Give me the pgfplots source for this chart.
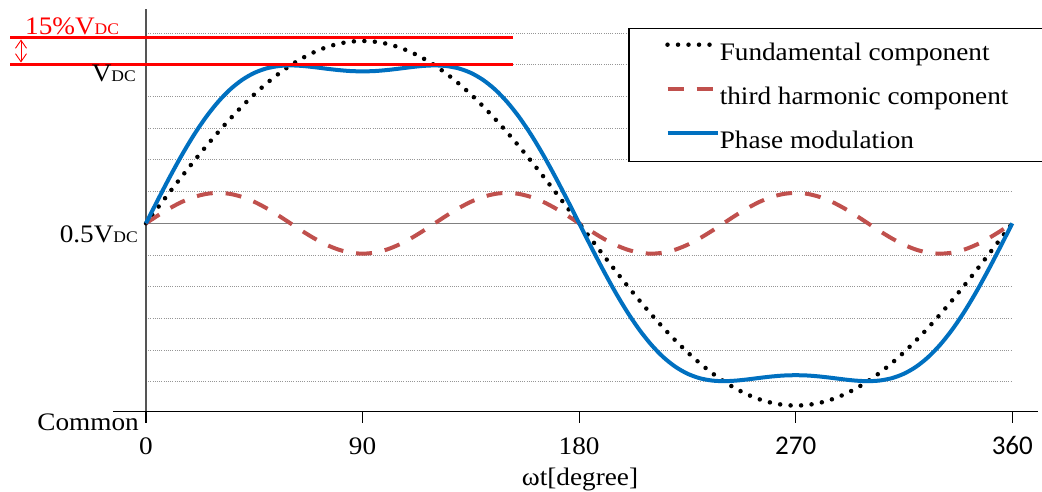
\documentclass[border=0pt]{standalone}
\usepackage{fontspec}
\setmainfont{Liberation Serif}[FakeStretch=1.08]
\newfontfamily\carlito{Carlito}
\usepackage{pgfplots}
\usepackage{pgfplotstable}
\pgfplotsset{compat=1.18}
\usetikzlibrary{arrows.meta}

\definecolor{pmblue}{RGB}{0,112,192}
\definecolor{thred}{RGB}{192,80,77}
\definecolor{gridgray}{RGB}{150,150,150}
\definecolor{axgray}{RGB}{85,85,85}
\newcommand{\bigfont}{\fontsize{25.2}{30}\selectfont}
\newcommand{\dcfont}{\fontsize{16.2}{18}\selectfont}
\newcommand{\vdc}{V{\dcfont DC}}
\newcommand{\carl}[1]{\hbox{\carlito\fontsize{27}{30}\selectfont #1}}
\newcommand{\serl}[1]{\hbox{\rmfamily\bigfont #1}}

\pgfplotstableread{
x F T P
0 0.5000 0.5000 0.5000
5 0.5501 0.5248 0.5749
10 0.5998 0.5479 0.6477
15 0.6488 0.5678 0.7166
20 0.6967 0.5830 0.7797
25 0.7430 0.5926 0.8356
30 0.7875 0.5958 0.8833
35 0.8298 0.5926 0.9224
40 0.8696 0.5830 0.9526
45 0.9066 0.5678 0.9744
50 0.9405 0.5479 0.9884
55 0.9710 0.5248 0.9958
60 0.9980 0.5000 0.9980
65 1.0211 0.4752 0.9963
70 1.0403 0.4521 0.9924
75 1.0554 0.4322 0.9876
80 1.0663 0.4170 0.9833
85 1.0728 0.4074 0.9802
90 1.0750 0.4042 0.9792
95 1.0728 0.4074 0.9802
100 1.0663 0.4170 0.9833
105 1.0554 0.4322 0.9876
110 1.0403 0.4521 0.9924
115 1.0211 0.4752 0.9963
120 0.9980 0.5000 0.9980
125 0.9710 0.5248 0.9958
130 0.9405 0.5479 0.9884
135 0.9066 0.5678 0.9744
140 0.8696 0.5830 0.9526
145 0.8298 0.5926 0.9224
150 0.7875 0.5958 0.8833
155 0.7430 0.5926 0.8356
160 0.6967 0.5830 0.7797
165 0.6488 0.5678 0.7166
170 0.5998 0.5479 0.6477
175 0.5501 0.5248 0.5749
180 0.5000 0.5000 0.5000
185 0.4499 0.4752 0.4251
190 0.4002 0.4521 0.3523
195 0.3512 0.4322 0.2834
200 0.3033 0.4170 0.2203
205 0.2570 0.4074 0.1644
210 0.2125 0.4042 0.1167
215 0.1702 0.4074 0.0776
220 0.1304 0.4170 0.0474
225 0.0934 0.4322 0.0256
230 0.0595 0.4521 0.0116
235 0.0290 0.4752 0.0042
240 0.0020 0.5000 0.0020
245 -0.0211 0.5248 0.0037
250 -0.0403 0.5479 0.0076
255 -0.0554 0.5678 0.0124
260 -0.0663 0.5830 0.0167
265 -0.0728 0.5926 0.0198
270 -0.0750 0.5958 0.0208
275 -0.0728 0.5926 0.0198
280 -0.0663 0.5830 0.0167
285 -0.0554 0.5678 0.0124
290 -0.0403 0.5479 0.0076
295 -0.0211 0.5248 0.0037
300 0.0020 0.5000 0.0020
305 0.0290 0.4752 0.0042
310 0.0595 0.4521 0.0116
315 0.0934 0.4322 0.0256
320 0.1304 0.4170 0.0474
325 0.1702 0.4074 0.0776
330 0.2125 0.4042 0.1167
335 0.2570 0.4074 0.1644
340 0.3033 0.4170 0.2203
345 0.3512 0.4322 0.2834
350 0.4002 0.4521 0.3523
355 0.4499 0.4752 0.4251
360 0.5000 0.5000 0.5000
}\wavedata

\begin{document}
\begin{tikzpicture}[x=1pt,y=1pt]
\begin{axis}[
  at={(146pt,79.3pt)}, anchor=south west,
  scale only axis, width=866.3pt, height=402.4pt,
  xmin=0, xmax=360, ymin=-0.0943, ymax=1.175,
  clip=false,
  axis x line=bottom, axis y line=left,
  axis line style={-},
  x axis line style={draw=none},
  y axis line style={draw=axgray, line width=2pt},
  /pgf/number format/assume math mode=true,
  xtick={0,90,180,270,360},
  xticklabels={\serl{0},\serl{90},\serl{180},\carl{270},\carl{360}},
  tick align=outside,
  major tick length=11pt,
  xtick style={black, line width=1.2pt},
  xticklabel style={font=\bigfont, anchor=base, yshift=-31.3pt},
  ytick={0,0.1,0.2,0.3,0.4,0.6,0.7,0.8,0.9,1.0,1.1},
  yticklabels={},
  ytick style={draw=none},
  ymajorgrids,
  major grid style={gridgray, line width=0.8pt, dash pattern=on 1pt off 1.2pt},
  extra y ticks={0.5}, extra y tick labels={},
  extra y tick style={grid=major, major grid style={solid, draw=gray, line width=1.3pt}, tick style={draw=none}},
  legend style={at={(axis cs:215.7,1.0719)}, anchor=north west, draw=none, fill=none,
    inner sep=0pt, row sep=20pt, column sep=0pt, font=\bigfont,
    nodes={inner sep=0pt, text height=18pt, text depth=6pt}},
  legend cell align=left,
  legend image code/.code={\draw[#1] (0pt,9.5pt) -- (50pt,9.5pt);},
]
\addplot[black, line width=4.5pt, line cap=round, dash pattern=on 0pt off 10.5pt, smooth] table[x=x,y=F]{\wavedata};
\addlegendentry{Fundamental component}
\addplot[thred, line width=4pt, dash pattern=on 16pt off 13pt, smooth] table[x=x,y=T]{\wavedata};
\addlegendentry{third harmonic component}
\addplot[pmblue, line width=4pt, smooth] table[x=x,y=P]{\wavedata};
\addlegendentry{Phase modulation}
\filldraw[fill=white, draw=black, line width=1.5pt] (axis cs:200.7,0.6943) rectangle (axis cs:374,1.1151);
\end{axis}
% axis line and annotations
\draw[black, line width=1.5pt] (113,79.3) -- (1038,79.3);
\draw[red, line width=3pt] (10,453.3) -- (513,453.3);
\draw[red, line width=3pt] (10,426.7) -- (513,426.7);
\draw[red, line width=0.9pt, {Straight Barb[length=8pt,width=11pt]}-{Straight Barb[length=8pt,width=11pt]}] (21,451.5) -- (21,428.5);
\node[anchor=base west, inner sep=0pt, text=red, font=\bigfont] at (25,456) {15\%\vdc};
\node[anchor=base east, inner sep=0pt, font=\bigfont] at (136,409) {\vdc};
\node[anchor=base east, inner sep=0pt, font=\bigfont] at (138,249) {0.5\vdc};
\node[anchor=base east, inner sep=0pt, font=\bigfont] at (139,61) {Common};
\node[anchor=base, inner sep=0pt, font=\bigfont] at (580,6) {ωt[degree]};
\pgfresetboundingbox
\path[use as bounding box] (0,0) rectangle (1042,491);
\end{tikzpicture}
\end{document}
